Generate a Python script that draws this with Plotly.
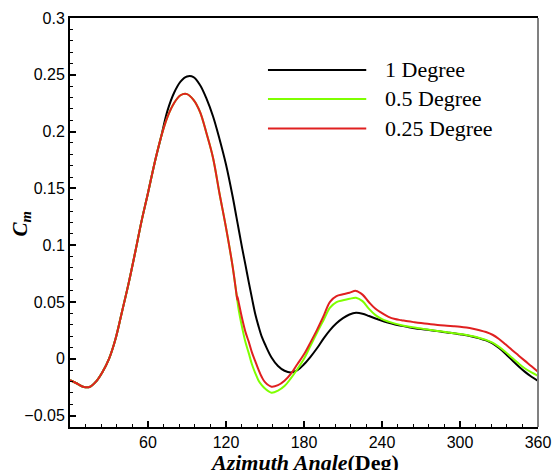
import plotly.graph_objects as go

# ---------------- data ----------------
azimuth = [0, 5, 10, 15, 20, 25, 30, 35, 40, 45, 50, 55, 60, 65, 70, 75, 80, 85, 90, 95,
           100, 105, 110, 115, 120, 125, 128, 130, 132.5, 135, 137.5, 140, 142.5, 145, 147.5,
           150, 155, 160, 165, 170, 175, 180, 185, 190, 195, 200, 205, 210, 215, 220, 225,
           230, 235, 240, 245, 250, 255, 260, 265, 270, 275, 280, 285, 290, 295, 300, 305,
           310, 315, 320, 325, 330, 335, 340, 345, 350, 355, 360]

cm_1deg = [-0.0188, -0.0215, -0.0245, -0.0248, -0.0200, -0.0115, 0.0000, 0.0175, 0.0415, 0.0660,
           0.0930, 0.1210, 0.1460, 0.1720, 0.1950, 0.2185, 0.2340, 0.2440, 0.2485, 0.2480,
           0.2410, 0.2290, 0.2135, 0.1935, 0.1710, 0.1435, 0.1250, 0.1125, 0.0970, 0.0825,
           0.0675, 0.0532, 0.0395, 0.0288, 0.0195, 0.0128, 0.0012, -0.0063, -0.0105, -0.0120,
           -0.0100, -0.0048, 0.0018, 0.0093, 0.0178, 0.0253, 0.0313, 0.0358, 0.0390, 0.0405,
           0.0397, 0.0377, 0.0355, 0.0335, 0.0318, 0.0303, 0.0290, 0.0280, 0.0270, 0.0262,
           0.0255, 0.0248, 0.0240, 0.0232, 0.0225, 0.0216, 0.0207, 0.0195, 0.0180, 0.0162,
           0.0135, 0.0095, 0.0045, -0.0010, -0.0065, -0.0115, -0.0158, -0.0194]

cm_05deg = [-0.0188, -0.0215, -0.0245, -0.0248, -0.0200, -0.0115, 0.0000, 0.0175, 0.0415, 0.0660,
            0.0930, 0.1210, 0.1460, 0.1720, 0.1950, 0.2130, 0.2250, 0.2320, 0.2330, 0.2280,
            0.2174, 0.1985, 0.1770, 0.1455, 0.1155, 0.0820, 0.0575, 0.0415, 0.0270, 0.0145,
            0.0050, -0.0050, -0.0125, -0.0190, -0.0232, -0.0262, -0.0298, -0.0280, -0.0240, -0.0170,
            -0.0090, 0.0000, 0.0115, 0.0230, 0.0340, 0.0450, 0.0500, 0.0515, 0.0528, 0.0538,
            0.0508, 0.0440, 0.0385, 0.0350, 0.0328, 0.0310, 0.0296, 0.0285, 0.0275, 0.0266,
            0.0258, 0.0250, 0.0242, 0.0234, 0.0226, 0.0218, 0.0209, 0.0198, 0.0184, 0.0167,
            0.0142, 0.0105, 0.0060, 0.0010, -0.0040, -0.0085, -0.0120, -0.0150]

azimuth_025 = [0, 5, 10, 15, 20, 25, 30, 35, 40, 45, 50, 55, 60, 65, 70, 75, 80, 85, 90, 95,
               100, 105, 110, 115, 120, 125, 128, 128.7, 128.8, 130, 132.5, 135, 137.5, 140, 142.5,
               145, 147.5, 150, 155, 160, 165, 170, 175, 180, 185, 190, 195, 200, 205, 210, 215,
               220, 225, 230, 235, 240, 245, 250, 255, 260, 265, 270, 275, 280, 285, 290, 295,
               300, 305, 310, 315, 320, 325, 330, 335, 340, 345, 350, 355, 360]

cm_025deg = [-0.0188, -0.0215, -0.0245, -0.0248, -0.0200, -0.0115, 0.0000, 0.0175, 0.0415, 0.0660,
             0.0930, 0.1210, 0.1460, 0.1720, 0.1950, 0.2130, 0.2250, 0.2320, 0.2330, 0.2280,
             0.2174, 0.1985, 0.1770, 0.1455, 0.1155, 0.0820, 0.0575, 0.0520, 0.0548, 0.0484,
             0.0350, 0.0235, 0.0150, 0.0055, -0.0020, -0.0095, -0.0160, -0.0205, -0.0245, -0.0232,
             -0.0193, -0.0130, -0.0045, 0.0040, 0.0145, 0.0255, 0.0375, 0.0502, 0.0552, 0.0568,
             0.0582, 0.0598, 0.0565, 0.0498, 0.0440, 0.0403, 0.0370, 0.0350, 0.0340, 0.0330,
             0.0322, 0.0315, 0.0308, 0.0302, 0.0296, 0.0291, 0.0287, 0.0282, 0.0275, 0.0265,
             0.0252, 0.0236, 0.0212, 0.0175, 0.0128, 0.0078, 0.0030, -0.0018, -0.0065, -0.0114]

series_names = ["1 Degree", "0.5 Degree", "0.25 Degree"]
series_colors = ["#000000", "#7fff00", "#e02020"]
x_tick_vals = [60, 120, 180, 240, 300, 360]

# ---------------- figure ----------------
fig = go.Figure()
for xs, ys, name, color in [(azimuth, cm_1deg, series_names[0], series_colors[0]),
                            (azimuth, cm_05deg, series_names[1], series_colors[1]),
                            (azimuth_025, cm_025deg, series_names[2], series_colors[2])]:
    fig.add_trace(go.Scatter(x=xs, y=ys, mode="lines", name=name,
                             line=dict(color=color, width=2, shape="spline", smoothing=1.0),
                             showlegend=False))

# manual legend (long line samples as in the reference)
leg_y = [0.873, 0.802, 0.730]
for name, color, yy in zip(series_names, series_colors, leg_y):
    fig.add_shape(type="line", xref="paper", yref="paper", x0=0.423, x1=0.633, y0=yy, y1=yy,
                  line=dict(color=color, width=2))
    fig.add_annotation(xref="paper", yref="paper", x=0.668, y=yy, text=name, showarrow=False,
                       xanchor="left", yanchor="middle",
                       font=dict(family="Times New Roman, Liberation Serif, serif", size=22, color="black"))

# right border (gray)
fig.add_shape(type="line", xref="paper", yref="paper", x0=1, x1=1, y0=0, y1=1,
              line=dict(color="#808080", width=2))

# axis titles
fig.add_annotation(xref="paper", yref="paper", x=0.5, y=0, yanchor="middle", yshift=-35,
                   text="<b><i>Azimuth Angle</i>(Deg)</b>", showarrow=False,
                   font=dict(family="Times New Roman, Liberation Serif, serif", size=22, color="black"))
fig.add_annotation(xref="paper", yref="paper", x=0, y=0.5, xanchor="center", yanchor="middle",
                   xshift=-50, yshift=-2, textangle=-90,
                   text="<b><i>C</i></b><sub><b><i>m</i></b></sub>", showarrow=False,
                   font=dict(family="Times New Roman, Liberation Serif, serif", size=21, color="black"))

fig.update_layout(
    width=552, height=470,
    margin=dict(l=70, r=14, t=18, b=43, autoexpand=False),
    paper_bgcolor="white", plot_bgcolor="white",
    xaxis=dict(range=[0, 360], tickmode="array", tickvals=x_tick_vals, automargin=False,
               ticks="inside", ticklen=6, tickwidth=1.5, tickcolor="black",
               minor=dict(ticks="inside", ticklen=3, tickwidth=1, tickcolor="black", tick0=0, dtick=12),
               showline=True, linecolor="black", linewidth=2, mirror=True,
               showgrid=False, zeroline=False,
               tickfont=dict(family="Arial, Liberation Sans, sans-serif", size=16, color="black")),
    yaxis=dict(range=[-0.06, 0.3], tick0=0, dtick=0.05, automargin=False,
               ticks="inside", ticklen=6, tickwidth=1.5, tickcolor="black",
               minor=dict(ticks="inside", ticklen=3, tickwidth=1, tickcolor="black", tick0=0, dtick=0.01),
               showline=True, linecolor="black", linewidth=2,
               showgrid=False, zeroline=False,
               tickfont=dict(family="Arial, Liberation Sans, sans-serif", size=16, color="black")),
)

# remove the page's default body margin so the figure fills the window exactly
fig.write_html("out.html", config={"displayModeBar": False},
               post_script="document.body.style.margin='0';document.body.style.overflow='hidden';")
